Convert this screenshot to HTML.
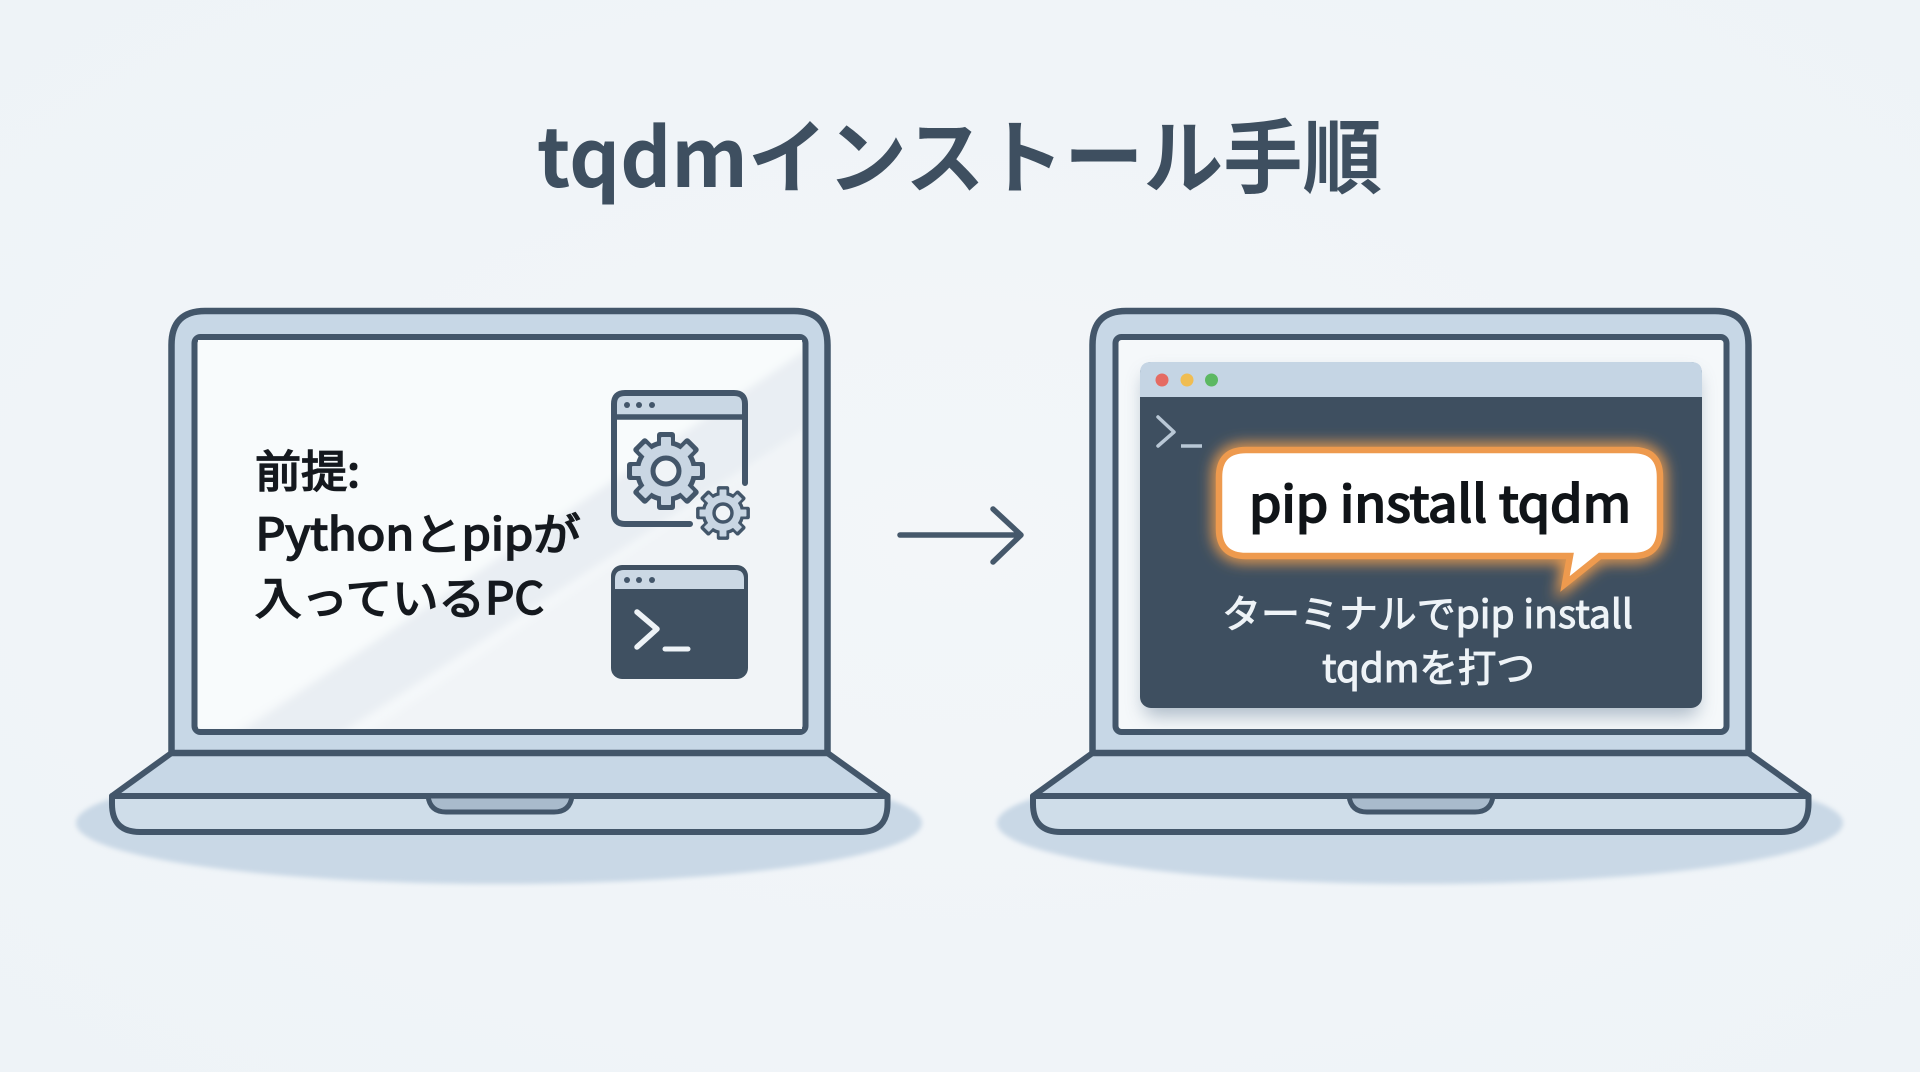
<!DOCTYPE html>
<html><head><meta charset="utf-8"><style>
html,body{margin:0;padding:0;background:#f1f5f8}
svg{display:block}
text{font-family:"Liberation Sans","Noto Sans CJK JP",sans-serif}
.t{font-family:"Noto Sans CJK JP","Liberation Sans",sans-serif}
</style></head><body>
<svg width="1920" height="1072" viewBox="0 0 1920 1072" xmlns="http://www.w3.org/2000/svg">
<defs>
<radialGradient id="bg" cx="50%" cy="50%" r="72%"><stop offset="0" stop-color="#f3f6f9"/><stop offset="1" stop-color="#eef3f7"/></radialGradient>
<filter id="soft" x="-20%" y="-20%" width="140%" height="140%"><feGaussianBlur stdDeviation="9"/></filter>
<filter id="glow" x="-20%" y="-30%" width="140%" height="160%"><feGaussianBlur stdDeviation="7"/></filter>
<filter id="b3" x="-5%" y="-20%" width="110%" height="140%"><feGaussianBlur stdDeviation="2.500"/></filter>
<filter id="b8" x="-10%" y="-10%" width="120%" height="120%"><feGaussianBlur stdDeviation="4"/></filter>
<clipPath id="scr"><rect x="198" y="340" width="604" height="389"/></clipPath>
<g id="laptop">
  <ellipse cx="499" cy="823" rx="423" ry="61" fill="#c9d8e6" filter="url(#b3)"/>
  <path d="M171.500 753L112 796H887.500L827.500 753Z" fill="#c7d7e6" stroke="#43566a" stroke-width="6" stroke-linejoin="round"/>
  <path d="M112 796H887.500V804Q887.500 832 860 832H140Q112 832 112 804Z" fill="#cfdde9" stroke="#43566a" stroke-width="6" stroke-linejoin="round"/>
  <path d="M428 796H572Q570 812 554 812H446Q430 812 428 796Z" fill="#a9bbcc" stroke="#43566a" stroke-width="5"/>
  <path d="M171.500 753V345Q171.500 311 205 311H794Q827.500 311 827.500 345V753Z" fill="#c7d7e6" stroke="#43566a" stroke-width="6.500"/>
  <rect x="194.500" y="337" width="611" height="395" rx="6" fill="#f5f8fa" stroke="#43566a" stroke-width="6"/>
</g>
<g id="gt"><rect x="-9" y="-39" width="18" height="14" rx="3"/></g>
<g id="gl"><rect x="-5" y="-34" width="10" height="14" rx="1"/></g>
<g id="gear">
  <g fill="#43566a"><circle r="31"/>
    <use href="#gt"/><use href="#gt" transform="rotate(45)"/><use href="#gt" transform="rotate(90)"/><use href="#gt" transform="rotate(135)"/><use href="#gt" transform="rotate(180)"/><use href="#gt" transform="rotate(225)"/><use href="#gt" transform="rotate(270)"/><use href="#gt" transform="rotate(315)"/></g>
  <g fill="#c9d6e3"><circle r="26"/>
    <use href="#gl"/><use href="#gl" transform="rotate(45)"/><use href="#gl" transform="rotate(90)"/><use href="#gl" transform="rotate(135)"/><use href="#gl" transform="rotate(180)"/><use href="#gl" transform="rotate(225)"/><use href="#gl" transform="rotate(270)"/><use href="#gl" transform="rotate(315)"/></g>
  <circle r="13" fill="#f0f4f7" stroke="#43566a" stroke-width="5"/>
</g>
</defs>
<rect width="1920" height="1072" fill="url(#bg)"/>

<text x="537" y="187" font-size="81" font-weight="700" fill="#3e4f60" textLength="845" lengthAdjust="spacingAndGlyphs" class="t">tqdmインストール手順</text>

<!-- left laptop -->
<use href="#laptop"/>
<g clip-path="url(#scr)"><g filter="url(#b8)">
<path d="M150 300H850V346L232 729H150Z" fill="#f8fbfc"/>
<path d="M850 320V400L300 760H200Z" fill="#e9eef3"/>
<path d="M850 400V780H300Z" fill="#f1f4f7"/>
</g></g>

<g fill="#15191e" stroke="#15191e" stroke-width="1.700">
<text x="255" y="487" font-size="44" textLength="105" lengthAdjust="spacingAndGlyphs" class="t">前提:</text>
<text x="255.500" y="550" font-size="44" textLength="325" lengthAdjust="spacingAndGlyphs" class="t">Pythonとpipが</text>
<text x="255" y="614" font-size="44" textLength="289" lengthAdjust="spacingAndGlyphs" class="t">入っているPC</text>
</g>

<!-- gear window -->
<path d="M614 417V404Q614 393 625 393H734Q745 393 745 404V417Z" fill="#c9d7e4"/>
<path d="M690 524H625Q614 524 614 513V404Q614 393 625 393H734Q745 393 745 404V483" fill="none" stroke="#43566a" stroke-width="6" stroke-linecap="round"/>
<path d="M614 417H745" stroke="#43566a" stroke-width="5.500"/>
<circle cx="627" cy="405" r="3" fill="#43566a"/><circle cx="639" cy="405" r="3" fill="#43566a"/><circle cx="652" cy="405" r="3" fill="#43566a"/>
<use href="#gear" transform="translate(666 471)"/>
<use href="#gear" transform="translate(723 513) scale(.69)"/>

<!-- terminal icon -->
<rect x="611" y="565" width="137" height="114" rx="11" fill="#3f5061"/>
<path d="M615 589V579Q615 570 624 570H735Q744 570 744 579V589Z" fill="#cbd8e4"/>
<circle cx="627" cy="580" r="3" fill="#43566a"/><circle cx="639" cy="580" r="3" fill="#43566a"/><circle cx="652" cy="580" r="3" fill="#43566a"/>
<path d="M637 612L657 629L637 647" fill="none" stroke="#eef3f7" stroke-width="5.500" stroke-linecap="round" stroke-linejoin="round"/>
<path d="M665 649H688" stroke="#eef3f7" stroke-width="5" stroke-linecap="round"/>

<!-- arrow -->
<path d="M900 535H1020M993 509L1021 535L993 562" fill="none" stroke="#45586b" stroke-width="5.500" stroke-linecap="round" stroke-linejoin="round"/>

<!-- right laptop -->
<use href="#laptop" x="921"/>
<rect x="1144" y="374" width="554" height="342" rx="10" fill="#8fa1b3" opacity=".7" filter="url(#soft)"/>
<rect x="1140" y="362" width="562" height="346" rx="11" fill="#3e4f60"/>
<path d="M1140 397V373Q1140 362 1151 362H1691Q1702 362 1702 373V397Z" fill="#c5d5e4"/>
<circle cx="1162" cy="380" r="6.500" fill="#e56b62"/><circle cx="1187" cy="380" r="6.500" fill="#f0bd52"/><circle cx="1211.500" cy="380" r="6.500" fill="#5cb862"/>
<path d="M1158 417L1174 432L1158 446" fill="none" stroke="#b9c8d6" stroke-width="3.500" stroke-linecap="round" stroke-linejoin="round"/>
<path d="M1181 446H1202" stroke="#b9c8d6" stroke-width="3.500"/>

<!-- bubble -->
<path d="M1246 450H1633Q1660 450 1660 477V529Q1660 556 1633 556H1600L1565 584L1570 556H1246Q1219 556 1219 529V477Q1219 450 1246 450Z" fill="none" stroke="#f6a04d" stroke-width="13" filter="url(#glow)"/>
<path d="M1246 450H1633Q1660 450 1660 477V529Q1660 556 1633 556H1600L1565 584L1570 556H1246Q1219 556 1219 529V477Q1219 450 1246 450Z" fill="#ffffff" stroke="#ee9a4e" stroke-width="6.500"/>
<text x="1249" y="522" font-size="50" fill="#101418" stroke="#101418" stroke-width="2" textLength="382" lengthAdjust="spacingAndGlyphs" class="t">pip install tqdm</text>
<g fill="#eef3f7" stroke="#eef3f7" stroke-width="1">
<text x="1222" y="628" font-size="39" textLength="411" lengthAdjust="spacingAndGlyphs" class="t">ターミナルでpip install</text>
<text x="1322" y="682" font-size="39" textLength="213" lengthAdjust="spacingAndGlyphs" class="t">tqdmを打つ</text>
</g>
</svg>
</body></html>
